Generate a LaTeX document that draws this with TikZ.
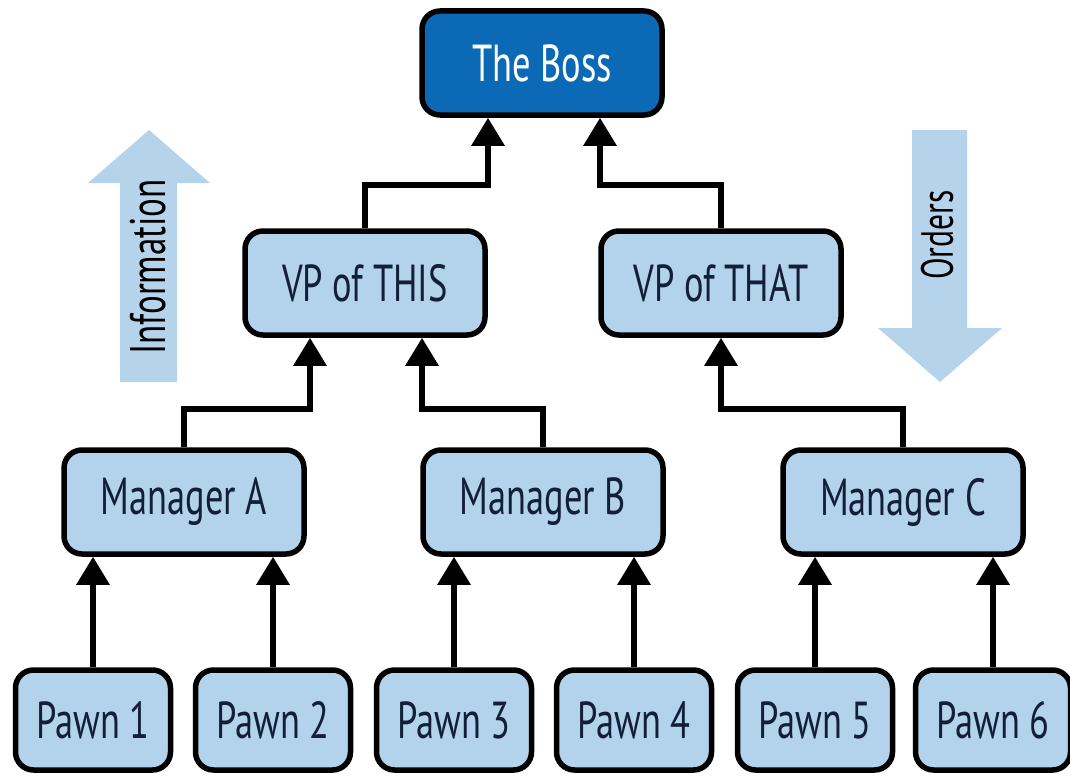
\documentclass[tikz,border=0pt]{standalone}
\usepackage{fontspec}
\setmainfont[FakeStretch=0.7]{PT Sans}
\usetikzlibrary{arrows.meta,calc}
\definecolor{boxfill}{HTML}{B3D3EC}
\definecolor{bossfill}{HTML}{0B69B5}
\definecolor{txt}{HTML}{121F38}
\definecolor{bigarrow}{HTML}{B5D3EB}
\tikzset{
  orgbox/.style={draw=black, line width=5.5pt, rounded corners=18pt, fill=boxfill,
    text=txt, minimum width=240pt, minimum height=104pt, inner sep=0pt,
    font=\fontsize{52}{56}\selectfont},
  bossbox/.style={orgbox, fill=bossfill, text=white},
  pawnbox/.style={orgbox, minimum width=155pt, minimum height=100pt},
  conn/.style={line width=6pt, -{Triangle[width=32pt,length=28pt]}},
  bigtext/.style={text=black, rotate=90, inner sep=0pt}
}
\begin{document}
\begin{tikzpicture}[x=1pt,y=-1pt]
\useasboundingbox (0,0) rectangle (1070,776);
% big arrows
\fill[bigarrow] (120,382) -- (120,183) -- (88,183) -- (149,130) -- (210,183) -- (177,183) -- (177,382) -- cycle;
\node[bigtext, font=\fontsize{50}{54}\selectfont] (info) at (148,267) {Information};
\fill[bigarrow] (912,130) -- (967,130) -- (967,328) -- (1002,328) -- (940,382) -- (878,328) -- (912,328) -- cycle;
\node[bigtext, font=\fontsize{45}{50}\selectfont] (orders) at (937,235) {Orders};
% nodes
\node[bossbox] (boss) at (542,63) {The Boss};
\node[orgbox] (vpthis) at (365,283) {VP of THIS};
\node[orgbox] (vpthat) at (721,283) {VP of THAT};
\node[orgbox] (ma) at (184,502) {Manager A};
\node[orgbox] (mb) at (543,502) {Manager B};
\node[orgbox] (mc) at (903,502) {Manager C};
\node[pawnbox] (p1) at (93,720) {Pawn 1};
\node[pawnbox] (p2) at (273,720) {Pawn 2};
\node[pawnbox] (p3) at (454,720) {Pawn 3};
\node[pawnbox] (p4) at (634,720) {Pawn 4};
\node[pawnbox] (p5) at (815,720) {Pawn 5};
\node[pawnbox] (p6) at (993,720) {Pawn 6};
% connectors
\foreach \p/\m in {p1/ma,p2/ma,p3/mb,p4/mb,p5/mc,p6/mc}
  \draw[conn] (\p.north) -- (\p.north |- \m.south);
\draw[conn] (ma.north) -- ++(0,-38) -| ($(vpthis.south)+(-55,0)$);
\draw[conn] (mb.north) -- ++(0,-38) -| ($(vpthis.south)+(57,0)$);
\draw[conn] (mc.north) -- ++(0,-38) -| (vpthat.south);
\draw[conn] (vpthis.north) -- ++(0,-43) -| ($(boss.south)+(-54,0)$);
\draw[conn] (vpthat.north) -- ++(0,-43) -| ($(boss.south)+(58,0)$);
\end{tikzpicture}
\end{document}
